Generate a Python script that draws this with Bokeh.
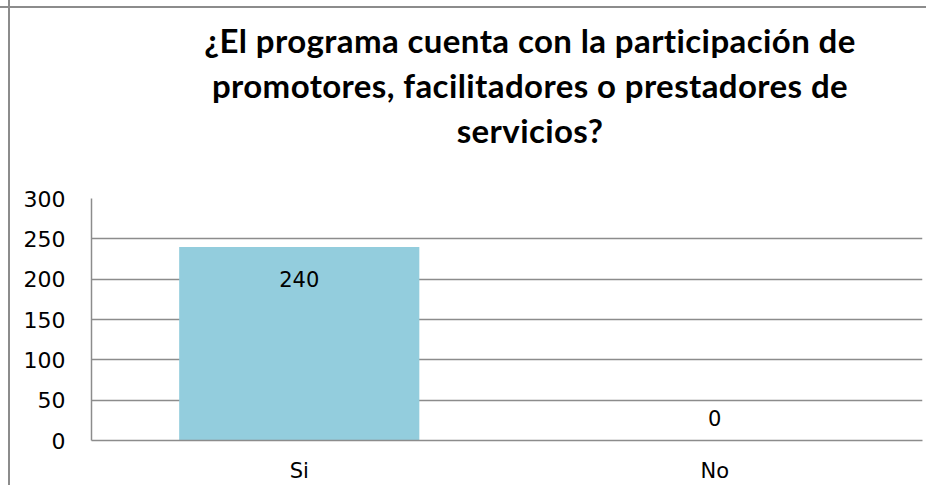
from bokeh.plotting import figure
from bokeh.models import (ColumnDataSource, FactorRange, Range1d, FixedTicker,
                          LabelSet, Div)
from bokeh.layouts import column
from bokeh.core.properties import value
from bokeh.embed import file_html
from bokeh.resources import INLINE

# ---- data ----
categories = ["Si", "No"]
counts = [240, 0]
count_labels = ["240", "0"]
y_ticks = [0, 50, 100, 150, 200, 250, 300]
title_lines = [
    "¿El programa cuenta con la participación de",
    "promotores, facilitadores o prestadores de",
    "servicios?",
]

BAR = "#93CDDD"
GRID = "#8c8c8c"
TITLE_FONT = "Lato, 'Open Sans', sans-serif"
TICK_FONT = "DejaVu Sans"
W = 926

label_offsets = [-32 if v > 0 else 23 for v in counts]

src = ColumnDataSource(dict(cat=categories, val=counts, lab=count_labels,
                            off=label_offsets))

# ---- title block ----
title_html = (
    f'<div style="display:block; width:{W}px; box-sizing:border-box; '
    f'padding-left:134px; padding-top:18px; text-align:center; '
    f'font-family:{TITLE_FONT}; font-weight:bold; font-size:33px; '
    f'letter-spacing:0.4px; line-height:45px; color:#000; white-space:nowrap;">'
    + "<br>".join(title_lines) + "</div>"
)
left_line = f"linear-gradient(to right, transparent 8px, {GRID} 8px, {GRID} 10px, transparent 10px)"
top_line = f"linear-gradient(to bottom, transparent 6px, {GRID} 6px, {GRID} 8px, transparent 8px)"
title_div = Div(text=title_html, width=W, height=180,
                styles={"background": f"{left_line}, {top_line}", "margin": "0"})

# ---- chart ----
p = figure(
    width=W, height=305,
    x_range=FactorRange(factors=categories, range_padding=0),
    y_range=Range1d(0, 300),
    output_backend="svg", toolbar_location=None,
    min_border_left=91, min_border_right=4,
    min_border_top=18, min_border_bottom=43,
)
p.styles = {"background": left_line}
p.outline_line_color = None
p.background_fill_color = "white"
p.border_fill_alpha = 0

p.vbar(x="cat", top="val", width=0.578, source=src, fill_color=BAR, line_color=None)

p.add_layout(LabelSet(x="cat", y="val", text="lab", y_offset="off", source=src,
                      text_align="center", text_baseline="middle",
                      text_font_size="21px", text_font=value(TICK_FONT),
                      text_color="#000000"))

# grid
p.xgrid.grid_line_color = None
p.ygrid.grid_line_color = GRID
p.ygrid.grid_line_width = 1.5
p.yaxis.ticker = FixedTicker(ticks=y_ticks)

# y axis
p.yaxis.axis_line_color = GRID
p.yaxis.axis_line_width = 1.5
p.yaxis.major_tick_line_color = None
p.yaxis.minor_tick_line_color = None
p.yaxis.major_tick_out = 0
p.yaxis.major_tick_in = 0
p.yaxis.major_label_standoff = 26
p.yaxis.major_label_text_font = TICK_FONT
p.yaxis.major_label_text_font_size = "22px"
p.yaxis.major_label_text_color = "#000000"

# x axis
p.xaxis.axis_line_color = GRID
p.xaxis.axis_line_width = 1.5
p.xaxis.major_tick_line_color = None
p.xaxis.major_tick_out = 0
p.xaxis.major_tick_in = 0
p.xaxis.major_label_standoff = 18
p.xaxis.major_label_text_font = TICK_FONT
p.xaxis.major_label_text_font_size = "21px"
p.xaxis.major_label_text_color = "#000000"

layout = column(title_div, p, spacing=0)

open("out.html", "w").write(file_html(layout, INLINE))
